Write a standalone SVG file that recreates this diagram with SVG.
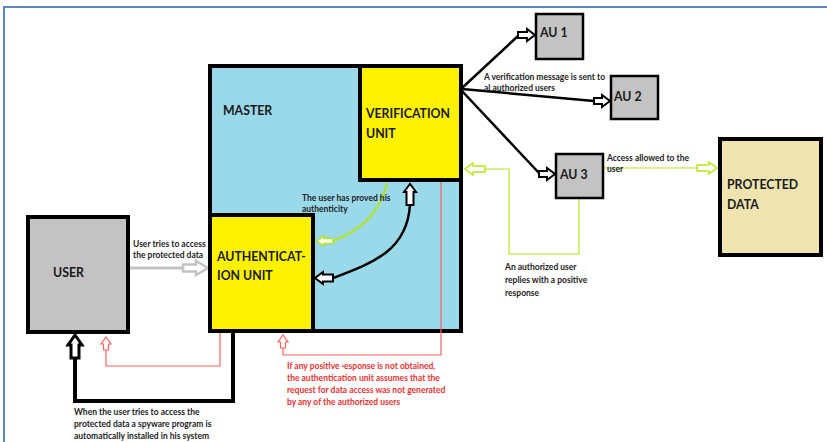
<svg xmlns="http://www.w3.org/2000/svg" width="827" height="442" viewBox="0 0 827 442">
<style>
.bg{fill:#ffffff}
.big{font-family:Lato,"Liberation Sans",sans-serif;font-weight:bold;font-size:12.3px;fill:#1a1a1a}
.sm{font-family:Lato,"Liberation Sans",sans-serif;font-weight:bold;font-size:8.5px;fill:#222}
.smr{font-family:Lato,"Liberation Sans",sans-serif;font-weight:bold;font-size:8.5px;fill:#f03030}
.box4{stroke:#000;stroke-width:4}
.box3{stroke:#000;stroke-width:2.5}
.gray{fill:#c3c3c3}
.yel{fill:#fff200}
.blue{fill:#99d9ea}
.tan{fill:#efe4b0}
.hb{fill:#fff;stroke:#000;stroke-linejoin:miter}
.hg{fill:#fff;stroke:#c3c3c3;stroke-width:2.5}
.hr{fill:#fff;stroke:#ff6060;stroke-width:1.2}
.hgr{fill:#fff;stroke:#b5e61d;stroke-width:1.5}
.lb{fill:none;stroke:#000}
.lr{fill:none;stroke:#ff6060;stroke-width:1.2}
.lg{fill:none;stroke:#b5e61d;stroke-width:1.2}
</style>
<rect class="bg" x="0" y="0" width="827" height="442"/>
<g id="frame">
<path d="M3,7 H827 M4,7 V442" fill="none" stroke="#5b87c5" stroke-width="2"/>
</g>
<g id="master">
<rect class="blue box4" x="210" y="66" width="251" height="265"/>
<text class="big" x="223" y="115" font-size="11.8">MASTER</text>
</g>
<g id="connectors">
<path class="lr" d="M441,182 V355 H283 V348"/>
<path class="hr" d="M280.5,348 V342 H278 L283,335 L288,342 H285.5 V348 Z"/>
<path class="lr" d="M220,333 V366 H106 V350"/>
<path class="hr" d="M103.5,350 V344 H101 L106,337 L111,344 H108.5 V350 Z"/>
<path class="lb" stroke-width="4" d="M233,333 V401 H75 V358"/>
<path class="hb" stroke-width="3" d="M71,358 V345 H68 L75,335 L82,345 H79 V358 Z"/>
<path fill="none" stroke="#c3c3c3" stroke-width="3" d="M130,268 H183"/>
<path class="hg" d="M183,264.5 H196 V261 L208,268 L196,275 V271.5 H183 Z"/>
<path fill="none" stroke="#b5e61d" stroke-width="2" d="M387,183 Q378,224 333,241"/>
<path class="hgr" d="M333,238.5 H324 V236 L317,241 L324,246 V243.5 H333 Z"/>
<path class="lb" stroke-width="2.5" d="M410,205 C407,250 375,262 333,278"/>
<path class="hb" stroke-width="2" d="M333,274.5 H323 V272 L315,278 L323,284 V281.5 H333 Z"/>
<path class="hb" stroke-width="2" d="M406.5,205 V192 H404 L410,184 L416,192 H413.5 V205 Z"/>
<path class="lb" stroke-width="2.5" d="M462,88 L518,36 M462,89 L594,101 M462,91 L539,173"/>
<path class="hb" stroke-width="2" d="M518,32 H527 V29 L535,35 L527,41 V38 H518 Z"/>
<path class="hb" stroke-width="2" d="M594,98 H602 V95 L610,101 L602,107 V104 H594 Z"/>
<path class="hb" stroke-width="2" d="M539,171 H547 V168 L555,174 L547,180 V177 H539 Z"/>
<path class="lg" d="M579,199 V254 H509 V169 H485"/>
<path class="hgr" d="M485,166 H473 V163 L465,169 L473,175 V172 H485 Z"/>
<path class="lg" d="M604,168 H697"/>
<path class="hgr" d="M697,165 H709 V162 L717,168 L709,174 V171 H697 Z"/>
</g>
<g id="verification">
<rect class="yel box4" x="360" y="66" width="101" height="114"/>
<text class="big" x="366" y="118">VERIFICATION</text>
<text class="big" x="366" y="138">UNIT</text>
</g>
<g id="authentication">
<rect class="yel box4" x="210" y="215" width="103" height="116"/>
<text class="big" x="217" y="261">AUTHENTICAT-</text>
<text class="big" x="217" y="280">ION UNIT</text>
</g>
<g id="user">
<rect class="gray box4" x="28" y="217" width="100" height="115"/>
<text class="big" x="53" y="277">USER</text>
</g>
<g id="au1">
<rect class="gray box3" x="536" y="14" width="47" height="45"/>
<text class="big" x="540" y="37">AU 1</text>
</g>
<g id="au2">
<rect class="gray box3" x="611" y="76" width="47" height="43"/>
<text class="big" x="614" y="101">AU 2</text>
</g>
<g id="au3">
<rect class="gray box3" x="556" y="154" width="47" height="44"/>
<text class="big" x="560" y="179">AU 3</text>
</g>
<g id="protected">
<rect class="tan box4" x="720" y="139" width="101" height="116"/>
<text class="big" x="727" y="189">PROTECTED</text>
<text class="big" x="727" y="209">DATA</text>
</g>
<g id="labels">
<text class="sm" x="133" y="247">User tries to access</text>
<text class="sm" x="133" y="258">the protected data</text>
<text class="sm" x="74" y="415">When the user tries to access the</text>
<text class="sm" x="74" y="427">protected data a spyware program is</text>
<text class="sm" x="74" y="439">automatically installed in his system</text>
<text class="sm" x="302" y="201" font-weight="normal" fill="#333">The user has proved his</text>
<text class="sm" x="302" y="212" font-weight="normal" fill="#333">authenticity</text>
<text class="smr" x="287" y="369">If any positive ·esponse is not obtained,</text>
<text class="smr" x="287" y="381">the authentication unit assumes that the</text>
<text class="smr" x="287" y="393">request for data access was not generated</text>
<text class="smr" x="287" y="405">by any of the authorized users</text>
<text class="sm" x="484" y="80">A verification message is sent to</text>
<text class="sm" x="484" y="91">al authorized users</text>
<text class="sm" x="607" y="161">Access allowed to the</text>
<text class="sm" x="607" y="172">user</text>
<text class="sm" x="505" y="270">An authorized user</text>
<text class="sm" x="505" y="283">replies with a positive</text>
<text class="sm" x="505" y="296">response</text>
</g>
</svg>
